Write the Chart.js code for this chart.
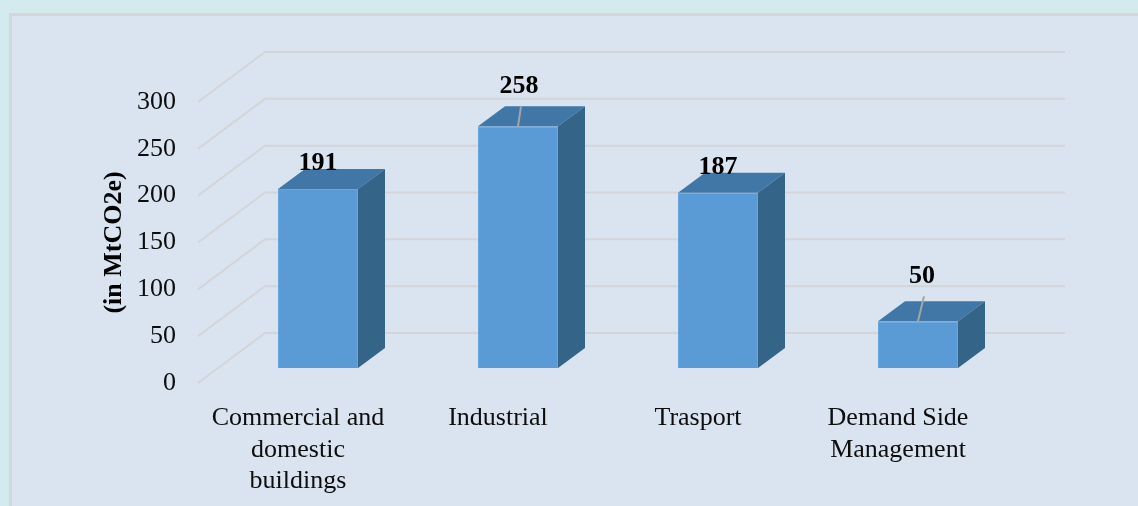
<!DOCTYPE html>
<html lang="en">
<head>
  <meta charset="UTF-8">
  <title>Emission reduction by sector</title>
  <script src="https://cdn.jsdelivr.net/npm/chart.js"></script>
  <style>
    body {
      margin: 0;
      background: #d3ebee;
      overflow: hidden;
    }
    /* panel behind the chart */
    #frame {
      position: absolute;
      left: 9px;
      top: 13px;
      width: 1300px;
      height: 700px;
      background: #dae4f1;
      border-left: 3px solid #d3d6da;
      border-top: 3px solid #d3d6da;
    }
    #chart-container {
      position: absolute;
      left: 0;
      top: 0;
      width: 1138px;
      height: 506px;
    }
  </style>
</head>
<body>
<div id="frame"></div>
<div id="chart-container">
  <canvas id="sectorChart"></canvas>
</div>
<script>
  // data
  const categories = [['Commercial and', 'domestic', 'buildings'], 'Industrial', 'Trasport', ['Demand Side', 'Management']];
  const reductions = [191, 258, 187, 50];
  const yTicks = [0, 50, 100, 150, 200, 250, 300];

  const serif = "'Liberation Serif', 'Times New Roman', serif";

  // fake 3D look (Excel style)
  const floorDepth = { dx: 67, dy: -50 };
  const barShift = { dx: 20, dy: -15 };
  const barDepth = { dx: 27, dy: -20 };
  const topColor = '#4177a6';
  const sideColor = '#356489';

  const perspectivePlugin = {
    id: 'perspective',
    beforeDatasetsDraw(chart) {
      const { ctx, chartArea: a, scales: { y } } = chart;
      ctx.save();
      ctx.strokeStyle = '#d3d5d9';
      ctx.lineWidth = 2;
      yTicks.forEach(v => {
        const py = y.getPixelForValue(v);
        ctx.beginPath();
        ctx.moveTo(a.left, py);
        ctx.lineTo(a.left + floorDepth.dx, py + floorDepth.dy);
        ctx.lineTo(a.right + floorDepth.dx, py + floorDepth.dy);
        ctx.stroke();
      });
      ctx.restore();
      // bars stand a bit behind the front plane
      ctx.save();
      ctx.translate(barShift.dx, barShift.dy);
    },
    afterDatasetsDraw(chart, args, opts) {
      const ctx = chart.ctx;
      const meta = chart.getDatasetMeta(0);
      meta.data.forEach((bar, i) => {
        const { x, y, base, width } = bar.getProps(['x', 'y', 'base', 'width'], true);
        const l = x - width / 2, r = x + width / 2;
        ctx.fillStyle = topColor;
        ctx.beginPath();
        ctx.moveTo(l, y);
        ctx.lineTo(l + barDepth.dx, y + barDepth.dy);
        ctx.lineTo(r + barDepth.dx, y + barDepth.dy);
        ctx.lineTo(r, y);
        ctx.closePath();
        ctx.fill();
        ctx.fillStyle = sideColor;
        ctx.beginPath();
        ctx.moveTo(r, y);
        ctx.lineTo(r + barDepth.dx, y + barDepth.dy);
        ctx.lineTo(r + barDepth.dx, base + barDepth.dy);
        ctx.lineTo(r, base);
        ctx.closePath();
        ctx.fill();

        // value label, some were moved up by hand with a leader line
        const moved = opts.moved[i];
        const lx = x + (moved ? moved.dx : 0);
        const ly = y + barDepth.dy - 6 - (moved ? moved.lift : 0);
        if (moved) {
          ctx.strokeStyle = '#a5a5a5';
          ctx.lineWidth = 2;
          ctx.beginPath();
          ctx.moveTo(lx + (moved.dx ? 2 : 0), ly + 20);
          ctx.lineTo(x, y);
          ctx.stroke();
        }
        ctx.fillStyle = '#000';
        ctx.font = 'bold 26px ' + serif;
        ctx.textAlign = 'center';
        ctx.textBaseline = 'middle';
        ctx.fillText(String(reductions[i]), lx, ly);
      });
      ctx.restore();
    }
  };

  const ctx = document.getElementById('sectorChart').getContext('2d');
  new Chart(ctx, {
    type: 'bar',
    data: {
      labels: categories,
      datasets: [{
        data: reductions,
        backgroundColor: '#5b9bd5',
        borderColor: '#6aa6dc',
        borderWidth: 1,
        categoryPercentage: 1,
        barPercentage: 0.4,
        clip: false
      }]
    },
    options: {
      responsive: true,
      maintainAspectRatio: false,
      animation: false,
      layout: { padding: { left: 0, right: 140, top: 102, bottom: 0 } },
      plugins: {
        legend: { display: false },
        tooltip: { enabled: false },
        perspective: {
          moved: { 1: { dx: 1, lift: 14 }, 3: { dx: 4, lift: 19 } }
        }
      },
      scales: {
        x: {
          grid: { display: false },
          border: { display: false },
          ticks: {
            color: '#0d0d0d',
            padding: 12,
            font: { family: serif, size: 26 },
            maxRotation: 0,
            autoSkip: false
          },
          afterFit(scale) { scale.height = 123; }
        },
        y: {
          min: 0,
          max: 300,
          afterBuildTicks(scale) { scale.ticks = yTicks.map(v => ({ value: v })); },
          grid: { display: false, drawTicks: false },
          border: { display: false },
          ticks: {
            color: '#0d0d0d',
            padding: 22,
            font: { family: serif, size: 26 }
          },
          title: {
            display: true,
            text: '(in MtCO2e)',
            color: '#000',
            padding: { top: 99, bottom: 0 },
            font: { family: serif, size: 26, weight: 'bold' }
          },
          afterFit(scale) { scale.width = 198; }
        }
      }
    },
    plugins: [perspectivePlugin]
  });
</script>
</body>
</html>
